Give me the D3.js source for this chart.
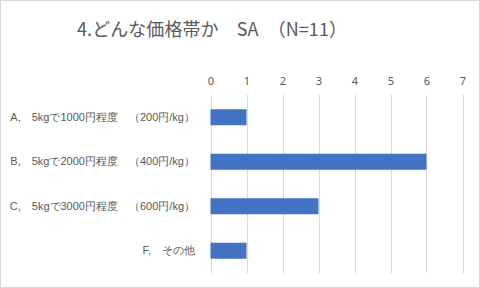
<!DOCTYPE html>
<html>
<head>
<meta charset="utf-8">
<script src="https://cdn.jsdelivr.net/npm/d3@7"></script>
<style>
body { margin: 0; background: #fff; }
svg { display: block; font-family: "Noto Sans CJK JP", "Noto Sans", sans-serif; }
</style>
</head>
<body>
<svg id="chart" width="480" height="288"></svg>
<script>
var categories = ["A,　5kgで1000円程度　（200円/kg）", "B,　5kgで2000円程度　（400円/kg）", "C,　5kgで3000円程度　（600円/kg）", "F,　その他"]
var values = [1, 6, 3, 1]
var tickValues = [0, 1, 2, 3, 4, 5, 6, 7]
var title = "4.どんな価格帯か　SA　（N=11）"

var svg = d3.select('#chart')

svg.append('rect')
    .attr('x', 0.5).attr('y', 0.5)
    .attr('width', 479).attr('height', 287)
    .attr('fill', '#fff')
    .attr('stroke', '#d9d9d9')

svg.append('text')
    .attr('x', 77).attr('y', 36)
    .attr('font-size', 18)
    .attr('fill', '#595959')
    .attr('textLength', 270)
    .text(title)

var x = d3.scaleLinear().domain([0, 7]).range([210.5, 462.5])
var y = d3.scaleBand().domain(categories).range([95, 273]).paddingInner(0.64).paddingOuter(0.32)

// gridlines
svg.append('g')
    .selectAll('line')
    .data(tickValues)
    .join('line')
    .attr('x1', d => Math.round(x(d)) + 0.5)
    .attr('x2', d => Math.round(x(d)) + 0.5)
    .attr('y1', 95).attr('y2', 273)
    .attr('stroke', '#d9d9d9')

// top axis labels
var xAxis = svg.append('g')
    .attr('transform', 'translate(0,85)')
    .call(d3.axisTop(x).tickValues(tickValues).tickFormat(d3.format('d')).tickSize(0).tickPadding(0))
xAxis.select('.domain').remove()
xAxis.selectAll('text')
    .attr('font-size', 11)
    .attr('fill', '#595959')
    .attr('font-family', '"Noto Sans", sans-serif')

// bars
svg.append('g')
    .selectAll('rect')
    .data(values)
    .join('rect')
    .attr('x', x(0))
    .attr('y', (d, i) => y(categories[i]))
    .attr('width', d => x(d) - x(0))
    .attr('height', y.bandwidth())
    .attr('fill', '#4472c4')

// category labels
var yAxis = svg.append('g')
    .attr('transform', 'translate(210,0)')
    .call(d3.axisLeft(y).tickSize(0).tickPadding(15))
yAxis.select('.domain').remove()
yAxis.selectAll('text')
    .attr('font-size', 11)
    .attr('fill', '#595959')
</script>
</body>
</html>
